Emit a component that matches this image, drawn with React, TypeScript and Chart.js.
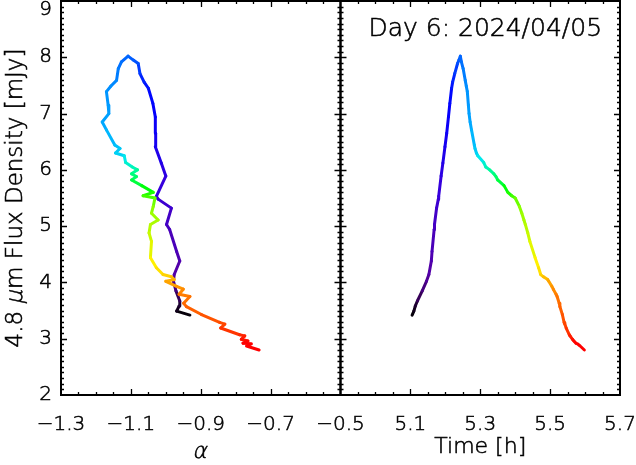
import React, { useEffect, useRef } from 'react';
import { Chart, registerables } from 'chart.js';

Chart.register(...registerables);

// ---- data (time in hours, flux density in mJy, spectral index alpha) ----
const TIMES = [
  5.105, 5.110, 5.114, 5.120, 5.134, 5.146, 5.153, 5.160, 5.162, 5.168, 5.169, 5.175, 5.180, 5.181,
  5.188, 5.193, 5.199, 5.204, 5.209, 5.213, 5.218, 5.221, 5.227, 5.235, 5.239, 5.243,
  5.246, 5.251, 5.257, 5.260, 5.263, 5.266, 5.268, 5.271, 5.275, 5.283,
  5.285, 5.289, 5.293, 5.310, 5.316, 5.327, 5.339, 5.345, 5.350, 5.368,
  5.379, 5.390, 5.400, 5.412, 5.419, 5.425, 5.429, 5.436, 5.442, 5.457,
  5.467, 5.473, 5.481, 5.493, 5.496, 5.505, 5.509, 5.517, 5.520, 5.526,
  5.528, 5.535, 5.540, 5.542, 5.546, 5.555, 5.557, 5.564, 5.568, 5.574,
  5.578, 5.586, 5.598,
];

const FLUX = [
  3.42, 3.49, 3.58, 3.67, 3.85, 4.02, 4.14, 4.38, 4.55, 4.94, 5.03, 5.32, 5.48, 5.53,
  5.89, 6.12, 6.41, 6.65, 6.94, 7.18, 7.45, 7.56, 7.71, 7.89, 7.95, 8.02,
  7.92, 7.80, 7.59, 7.49, 7.39, 7.15, 7.00, 6.85, 6.71, 6.44,
  6.38, 6.30, 6.25, 6.13, 6.05, 6.00, 5.93, 5.88, 5.82, 5.72,
  5.60, 5.54, 5.50, 5.35, 5.23, 5.11, 5.03, 4.88, 4.73, 4.44,
  4.26, 4.14, 4.10, 4.05, 4.02, 3.93, 3.88, 3.79, 3.75, 3.63,
  3.57, 3.43, 3.29, 3.26, 3.19, 3.07, 3.05, 2.99, 2.96, 2.92,
  2.91, 2.87, 2.80,
];

const ALPHA = [
  -0.931, -0.969, -0.962, -0.960, -0.971, -0.978, -0.976, -0.960, -0.969, -0.989, -0.998, -0.984, -1.022, -1.027,
  -1.000, -1.013, -1.030, -1.029, -1.030, -1.037, -1.050, -1.062, -1.074, -1.079, -1.093, -1.108,
  -1.127, -1.136, -1.141, -1.157, -1.170, -1.165, -1.163, -1.182, -1.170, -1.146,
  -1.131, -1.144, -1.119, -1.115, -1.096, -1.081, -1.098, -1.084, -1.098, -1.069,
  -1.036, -1.065, -1.031, -1.036, -1.041, -1.022, -1.044, -1.048, -1.041, -1.044,
  -1.027, -1.008, -0.984, -0.976, -1.000, -0.969, -0.950, -0.962, -0.931, -0.949,
  -0.941, -0.898, -0.846, -0.831, -0.843, -0.789, -0.774, -0.784, -0.765, -0.779,
  -0.755, -0.769, -0.733,
];

// ---- axes / labels ----
const ALPHA_MIN = -1.3;
const ALPHA_MAX = -0.5;
const TIME_MIN = 4.9;
const TIME_MAX = 5.7;
const FLUX_MIN = 2;
const FLUX_MAX = 9;
const ALPHA_TICKS = [-1.3, -1.1, -0.9, -0.7, -0.5];
const TIME_TICKS = [5.1, 5.3, 5.5, 5.7];
const FLUX_TICKS = [2, 3, 4, 5, 6, 7, 8, 9];
const X_MINOR_STEP = 0.05;
const Y_MINOR_STEP = 0.1;
const ALPHA_TITLE = 'α';
const TIME_TITLE = 'Time [h]';
const FLUX_TITLE_PARTS = ['4.8 ', 'μ', 'm Flux Density [mJy]'];
const FLUX_TITLE_ITALIC = [false, true, false];
const DAY_LABEL = 'Day 6: 2024/04/05';

// ---- style ----
const FONT = "'DejaVu Sans', sans-serif";
const WEIGHT = 200;
const INK = '#000';
const TEXT_STROKE = 0.55;
const SKEW = -0.22;
const STOPS: number[][] = [
  [0.0, 0, 0, 0],
  [0.05, 60, 0, 100],
  [0.1, 85, 0, 165],
  [0.16, 55, 0, 220],
  [0.22, 0, 0, 255],
  [0.28, 0, 100, 255],
  [0.35, 0, 180, 255],
  [0.4, 0, 235, 235],
  [0.47, 0, 255, 140],
  [0.55, 0, 255, 0],
  [0.63, 140, 255, 0],
  [0.72, 255, 245, 0],
  [0.8, 255, 165, 0],
  [0.88, 255, 80, 0],
  [0.95, 255, 0, 0],
  [1.0, 255, 0, 0],
];

function colorAtTime(t: number): string {
  const t0 = TIMES[0];
  const t1 = TIMES[TIMES.length - 1];
  const u = Math.min(1, Math.max(0, (t - t0) / (t1 - t0)));
  for (let i = 1; i < STOPS.length; i++) {
    const a = STOPS[i - 1];
    const b = STOPS[i];
    if (u <= b[0]) {
      const f = (u - a[0]) / (b[0] - a[0] || 1);
      const c = [1, 2, 3].map((k) => Math.round(a[k] + (b[k] - a[k]) * f));
      return `rgb(${c[0]},${c[1]},${c[2]})`;
    }
  }
  return 'rgb(255,0,0)';
}

function fmtTick(v: number): string {
  const s = Math.abs(v).toFixed(1);
  return v < -1e-9 ? '\u2212' + s : s;
}

function steps(a: number, b: number, step: number): number[] {
  const n = Math.round((b - a) / step);
  const out: number[] = [];
  for (let i = 0; i <= n; i++) out.push(a + i * step);
  return out;
}

function font(size: number): string {
  return `${WEIGHT} ${size}px ${FONT}`;
}

// draws one run of text at (x, y) with left alignment; optional faux-italic
function run(ctx: CanvasRenderingContext2D, text: string, x: number, y: number, italic: boolean) {
  ctx.save();
  ctx.translate(x, y);
  if (italic) ctx.transform(1, 0, SKEW, 1, 0, 0);
  ctx.fillText(text, 0, 0);
  ctx.strokeText(text, 0, 0);
  ctx.restore();
}

function centered(ctx: CanvasRenderingContext2D, parts: string[], italics: boolean[], cx: number, cy: number) {
  const widths = parts.map((p) => ctx.measureText(p).width);
  const total = widths.reduce((a, b) => a + b, 0);
  let x = cx - total / 2;
  parts.forEach((p, i) => {
    run(ctx, p, x, cy, italics[i]);
    x += widths[i];
  });
}

const framePlugin = {
  id: 'idlFrame',
  afterDatasetsDraw(chart: any) {
    const ctx = chart.ctx as CanvasRenderingContext2D;
    const xs = [chart.scales.x1, chart.scales.x2];
    const y = chart.scales.y;
    const top = y.top;
    const bottom = y.bottom;
    ctx.save();
    ctx.strokeStyle = INK;
    ctx.lineCap = 'butt';

    // tick marks (inward)
    ctx.lineWidth = 1.3;
    ctx.beginPath();
    for (const xs_ of xs) {
      const vals = steps(xs_.min, xs_.max, X_MINOR_STEP);
      vals.forEach((v, i) => {
        if (i === 0 || i === vals.length - 1) return;
        const px = Math.round(xs_.getPixelForValue(v)) + 0.5;
        const len = i % 4 === 0 ? 6 : 3;
        ctx.moveTo(px, bottom);
        ctx.lineTo(px, bottom - len);
        ctx.moveTo(px, top);
        ctx.lineTo(px, top + len);
      });
      const yv = steps(FLUX_MIN, FLUX_MAX, Y_MINOR_STEP);
      yv.forEach((v, i) => {
        if (i === 0 || i === yv.length - 1) return;
        const py = Math.round(y.getPixelForValue(v)) + 0.5;
        const len = i % 10 === 0 ? 6 : 3;
        ctx.moveTo(xs_.left, py);
        ctx.lineTo(xs_.left + len, py);
        ctx.moveTo(xs_.right, py);
        ctx.lineTo(xs_.right - len, py);
      });
    }
    ctx.stroke();

    // frames
    ctx.lineWidth = 2;
    for (const xs_ of xs) {
      ctx.strokeRect(xs_.left, top, xs_.right - xs_.left, bottom - top);
    }

    // text styling
    ctx.fillStyle = INK;
    ctx.strokeStyle = INK;
    ctx.lineWidth = TEXT_STROKE;
    ctx.textBaseline = 'middle';
    ctx.textAlign = 'left';

    // top flux label (kept inside the canvas, as in the original)
    ctx.font = font(20);
    const nine = String(FLUX_MAX);
    run(ctx, nine, y.right - 9 - ctx.measureText(nine).width, top + 9, false);

    // x-axis titles
    ctx.font = font(22);
    const x1 = chart.scales.x1;
    const x2 = chart.scales.x2;
    centered(ctx, [ALPHA_TITLE], [true], (x1.left + x1.right) / 2, 452);
    centered(ctx, [TIME_TITLE], [false], (x2.left + x2.right) / 2, 447);

    // annotation
    ctx.font = font(25);
    centered(ctx, [DAY_LABEL], [false], (x2.left + x2.right) / 2 + 5, top + 28);

    // y-axis title with italic mu
    ctx.save();
    ctx.font = font(23);
    ctx.translate(16, (top + bottom) / 2);
    ctx.rotate(-Math.PI / 2);
    centered(ctx, FLUX_TITLE_PARTS, FLUX_TITLE_ITALIC, 0, 0);
    ctx.restore();

    ctx.restore();
  },
};

export default function App() {
  const ref = useRef<HTMLCanvasElement | null>(null);

  useEffect(() => {
    if (!ref.current) return;
    const tickFont = { family: FONT, size: 20, weight: WEIGHT };
    const tickOpts = {
      font: tickFont,
      color: INK,
      textStrokeColor: INK,
      textStrokeWidth: TEXT_STROKE,
      maxRotation: 0,
      autoSkip: false,
    };
    const zeroPad = (s: any) => {
      s.paddingLeft = 0;
      s.paddingRight = 0;
      s.paddingTop = 0;
      s.paddingBottom = 0;
    };
    const seg = {
      borderColor: (c: any) => colorAtTime((TIMES[c.p0DataIndex] + TIMES[c.p1DataIndex]) / 2),
    };
    const lineDs = {
      yAxisID: 'y',
      showLine: true,
      borderWidth: 3,
      pointRadius: 0,
      borderJoinStyle: 'round',
      borderCapStyle: 'round',
      segment: seg,
    };
    const chart = new Chart(ref.current, {
      type: 'scatter',
      data: {
        datasets: [
          { ...lineDs, data: ALPHA.map((a, i) => ({ x: a, y: FLUX[i] })), xAxisID: 'x1' } as any,
          { ...lineDs, data: TIMES.map((t, i) => ({ x: t, y: FLUX[i] })), xAxisID: 'x2' } as any,
        ],
      },
      options: {
        responsive: false,
        animation: false,
        events: [],
        layout: { padding: { top: 1, right: 16, left: 0, bottom: 0 } },
        plugins: { legend: { display: false }, tooltip: { enabled: false } },
        scales: {
          x1: {
            type: 'linear',
            position: 'bottom',
            stack: 'panels',
            stackWeight: 1,
            min: ALPHA_MIN,
            max: ALPHA_MAX,
            afterBuildTicks: (s: any) => {
              s.ticks = ALPHA_TICKS.map((v) => ({ value: v }));
            },
            ticks: { ...tickOpts, padding: 18, callback: (v: any) => fmtTick(Number(v)) },
            grid: { display: false, drawTicks: false },
            border: { display: false },
            title: { display: false },
            afterFit: (s: any) => {
              s.height = 70;
              zeroPad(s);
            },
          },
          x2: {
            type: 'linear',
            position: 'bottom',
            stack: 'panels',
            stackWeight: 1,
            min: TIME_MIN,
            max: TIME_MAX,
            afterBuildTicks: (s: any) => {
              s.ticks = TIME_TICKS.map((v) => ({ value: v }));
            },
            ticks: { ...tickOpts, padding: 18, callback: (v: any) => fmtTick(Number(v)) },
            grid: { display: false, drawTicks: false },
            border: { display: false },
            title: { display: false },
            afterFit: (s: any) => {
              s.height = 70;
              zeroPad(s);
            },
          },
          y: {
            type: 'linear',
            position: 'left',
            min: FLUX_MIN,
            max: FLUX_MAX,
            afterBuildTicks: (s: any) => {
              s.ticks = FLUX_TICKS.map((v) => ({ value: v }));
            },
            ticks: {
              ...tickOpts,
              padding: 9,
              callback: (v: any) => (Number(v) >= FLUX_MAX ? '' : String(Math.round(Number(v)))),
            },
            grid: { display: false, drawTicks: false },
            border: { display: false },
            afterFit: (s: any) => {
              s.width = 61;
              zeroPad(s);
            },
          },
        } as any,
      },
      plugins: [framePlugin],
    });
    return () => chart.destroy();
  }, []);

  return (
    <div style={{ position: 'fixed', left: 0, top: 0, width: 636, height: 465, background: '#fff' }}>
      <canvas ref={ref} width={636} height={465} style={{ display: 'block', width: 636, height: 465 }} />
    </div>
  );
}
